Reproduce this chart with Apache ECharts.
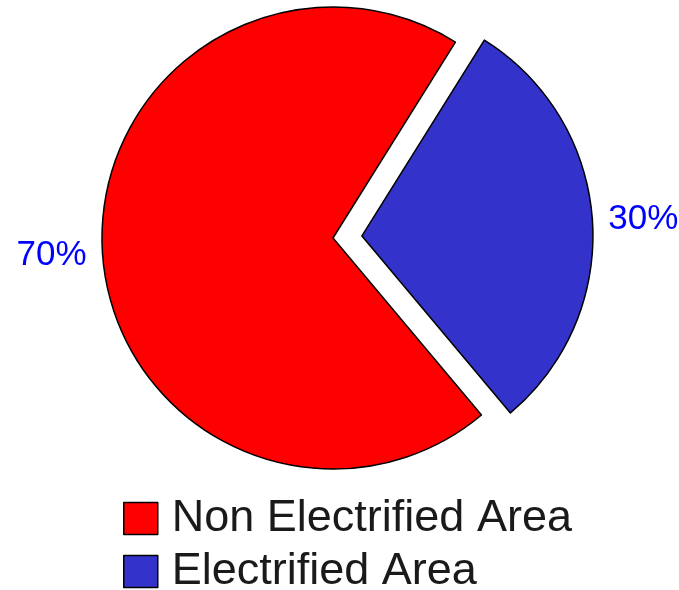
<!DOCTYPE html>
<html>
<head>
<meta charset="utf-8">
<script src="https://cdn.jsdelivr.net/npm/echarts@6/dist/echarts.min.js"></script>
<style>
html,body{margin:0;padding:0;background:#fff;}
#c{width:679px;height:590px;}
</style>
</head>
<body>
<div id="c"></div>
<script>
const categories = ["Non Electrified Area", "Electrified Area"];
const values = [70, 30];
const colors = ["#ff0000", "#3333cc"];
const selectedFlags = [false, true];

const chart = echarts.init(document.getElementById('c'), null, {renderer: 'canvas'});
const data = categories.map((name, i) => ({
  name: name,
  value: values[i],
  selected: selectedFlags[i],
  itemStyle: {color: colors[i]},
  select: {itemStyle: {color: colors[i], borderColor: '#000', borderWidth: 1.5}}
}));

chart.setOption({
  animation: false,
  backgroundColor: '#ffffff',
  legend: {
    orient: 'vertical',
    left: 123,
    top: 496,
    height: 300,
    padding: 0,
    itemWidth: 34,
    itemHeight: 32,
    itemGap: 8,
    icon: 'rect',
    selectedMode: false,
    itemStyle: {borderColor: '#000', borderWidth: 1.5},
    textStyle: {
      fontFamily: 'Liberation Sans',
      fontSize: 45,
      color: '#1a1a1a',
      lineHeight: 32,
      padding: [0, 0, 0, 9]
    },
    data: categories
  },
  series: [{
    type: 'pie',
    center: [333, 238],
    radius: [0, 231],
    startAngle: -50,
    clockwise: true,
    selectedMode: 'single',
    selectedOffset: 29,
    avoidLabelOverlap: false,
    emphasis: {disabled: true},
    itemStyle: {borderColor: '#000', borderWidth: 1.5},
    label: {
      show: true,
      position: 'outside',
      formatter: '{d}%',
      fontFamily: 'Liberation Sans',
      fontSize: 35,
      color: '#0000ff',
      distanceToLabelLine: 5
    },
    labelLine: {show: false, length: 11, length2: 0},
    data: data
  }]
});
</script>
</body>
</html>
